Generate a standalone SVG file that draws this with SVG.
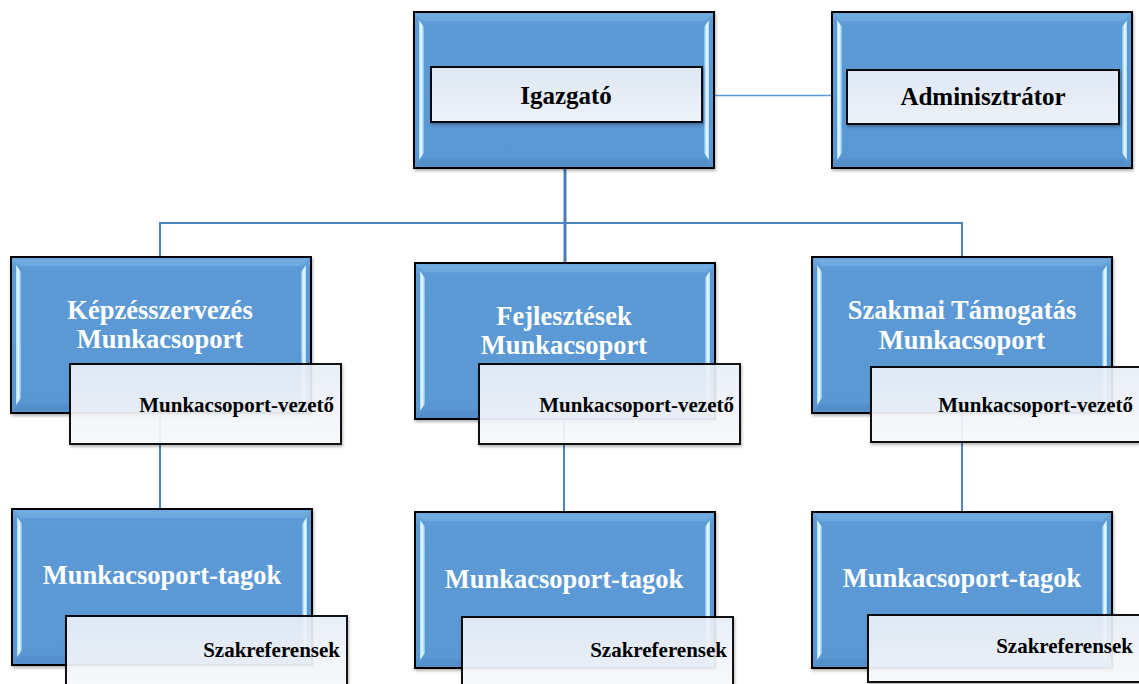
<svg xmlns="http://www.w3.org/2000/svg" xmlns:xlink="http://www.w3.org/1999/xlink" width="1139" height="684" viewBox="0 0 1139 684">
  <style>
    .conn { fill: none; stroke: #4f84bd; stroke-width: 2; }
    .connMain { fill: none; stroke: #4a7fb5; stroke-width: 3; }
    .connThin { fill: none; stroke: #5b9bd5; stroke-width: 1.5; }
    .inner { fill: url(#gInner); stroke: #000; stroke-width: 2; opacity: 0.93; filter: url(#shadow); }
    .title { font-family: "Liberation Serif", "Times New Roman", serif; font-weight: bold; font-size: 26.5px; fill: #ffffff; text-anchor: middle; }
    .top { font-family: "Liberation Serif", "Times New Roman", serif; font-weight: bold; font-size: 25px; fill: #000; text-anchor: middle; }
    .sub { font-family: "Liberation Serif", "Times New Roman", serif; font-weight: bold; font-size: 21px; fill: #000; text-anchor: end; }
    .shadow { filter: url(#shadow); }
  </style>
  <defs>
    <linearGradient id="gBlue" x1="0" y1="0" x2="0" y2="1">
      <stop offset="0" stop-color="#6aa8de"/>
      <stop offset="0.08" stop-color="#5b9ad6"/>
      <stop offset="0.92" stop-color="#5a98d4"/>
      <stop offset="1" stop-color="#5590cb"/>
    </linearGradient>
    <linearGradient id="gHL" x1="0" y1="0" x2="1" y2="0">
      <stop offset="0" stop-color="#a9dcf7"/>
      <stop offset="0.45" stop-color="#eefaff"/>
      <stop offset="1" stop-color="#7dbbe8"/>
    </linearGradient>
    <linearGradient id="gHLr" x1="1" y1="0" x2="0" y2="0">
      <stop offset="0" stop-color="#a9dcf7"/>
      <stop offset="0.45" stop-color="#eefaff"/>
      <stop offset="1" stop-color="#7dbbe8"/>
    </linearGradient>
    <linearGradient id="gInner" x1="0" y1="0" x2="0" y2="1">
      <stop offset="0" stop-color="#e8eef7"/>
      <stop offset="1" stop-color="#f8f9fb"/>
    </linearGradient>
    <filter id="shadow" x="-5%" y="-5%" width="112%" height="120%">
      <feDropShadow dx="1" dy="2" stdDeviation="1.5" flood-color="#000" flood-opacity="0.3"/>
    </filter>
    <g id="outerBox">
      <rect x="0" y="0" width="300" height="156" fill="url(#gBlue)" stroke="#000" stroke-width="2"/>
      <path d="M2,2 H298 L291,9 H9 Z" fill="#7ab4e4" opacity="0.5"/>
      <path d="M2,154 H298 L291,147 H9 Z" fill="#4a86c0" opacity="0.3"/>
      <path d="M5,8 L10,15 V141 L5,148 Z" fill="url(#gHL)"/>
      <path d="M295,8 L290,15 V141 L295,148 Z" fill="url(#gHLr)"/>
    </g>
  </defs>

  <g id="connectors">
    <line class="connThin" x1="715" y1="95.5" x2="832" y2="95.5"/>
    <line class="connMain" x1="565" y1="169" x2="565" y2="263"/>
    <polyline class="conn" points="160,257 160,223 962,223 962,257"/>
    <line class="conn" x1="160" y1="413" x2="160" y2="509"/>
    <line class="conn" x1="564" y1="420" x2="564" y2="512"/>
    <line class="conn" x1="962" y1="414" x2="962" y2="512"/>
  </g>

  <g id="igazgato">
    <use xlink:href="#outerBox" href="#outerBox" class="shadow" transform="translate(414,12)"/>
    <rect class="inner" x="431" y="67" width="271" height="55"/>
    <text class="top" x="566" y="104">Igazgató</text>
  </g>

  <g id="adminisztrator">
    <use xlink:href="#outerBox" href="#outerBox" class="shadow" transform="translate(832,12)"/>
    <rect class="inner" x="847" y="70" width="272" height="54"/>
    <text class="top" x="983" y="105">Adminisztrátor</text>
  </g>

  <g id="kepzesszervezes">
    <use xlink:href="#outerBox" href="#outerBox" class="shadow" transform="translate(11,257)"/>
    <text class="title" x="160" y="319">Képzésszervezés</text>
    <text class="title" x="160" y="348">Munkacsoport</text>
    <rect class="inner" x="70" y="364" width="271" height="80"/>
    <text class="sub" x="334" y="412">Munkacsoport-vezető</text>
  </g>

  <g id="fejlesztesek">
    <use xlink:href="#outerBox" href="#outerBox" class="shadow" transform="translate(415,263)"/>
    <text class="title" x="564" y="325">Fejlesztések</text>
    <text class="title" x="564" y="354">Munkacsoport</text>
    <rect class="inner" x="479" y="364" width="261" height="80"/>
    <text class="sub" x="734" y="412">Munkacsoport-vezető</text>
  </g>

  <g id="szakmai">
    <use xlink:href="#outerBox" href="#outerBox" class="shadow" transform="translate(812,257)"/>
    <text class="title" x="962" y="319">Szakmai Támogatás</text>
    <text class="title" x="962" y="349">Munkacsoport</text>
    <rect class="inner" x="871" y="367" width="275" height="75"/>
    <text class="sub" x="1133" y="412">Munkacsoport-vezető</text>
  </g>

  <g id="tagok-1">
    <use xlink:href="#outerBox" href="#outerBox" class="shadow" transform="translate(12,509)"/>
    <text class="title" x="162" y="584">Munkacsoport-tagok</text>
    <rect class="inner" x="66" y="616" width="281" height="75"/>
    <text class="sub" x="340" y="657">Szakreferensek</text>
  </g>

  <g id="tagok-2">
    <use xlink:href="#outerBox" href="#outerBox" class="shadow" transform="translate(415,512)"/>
    <text class="title" x="564" y="588">Munkacsoport-tagok</text>
    <rect class="inner" x="462" y="617" width="271" height="70"/>
    <text class="sub" x="727" y="657">Szakreferensek</text>
  </g>

  <g id="tagok-3">
    <use xlink:href="#outerBox" href="#outerBox" class="shadow" transform="translate(812,512)"/>
    <text class="title" x="962" y="587">Munkacsoport-tagok</text>
    <rect class="inner" x="868" y="615" width="280" height="67"/>
    <text class="sub" x="1133" y="653">Szakreferensek</text>
  </g>
</svg>
